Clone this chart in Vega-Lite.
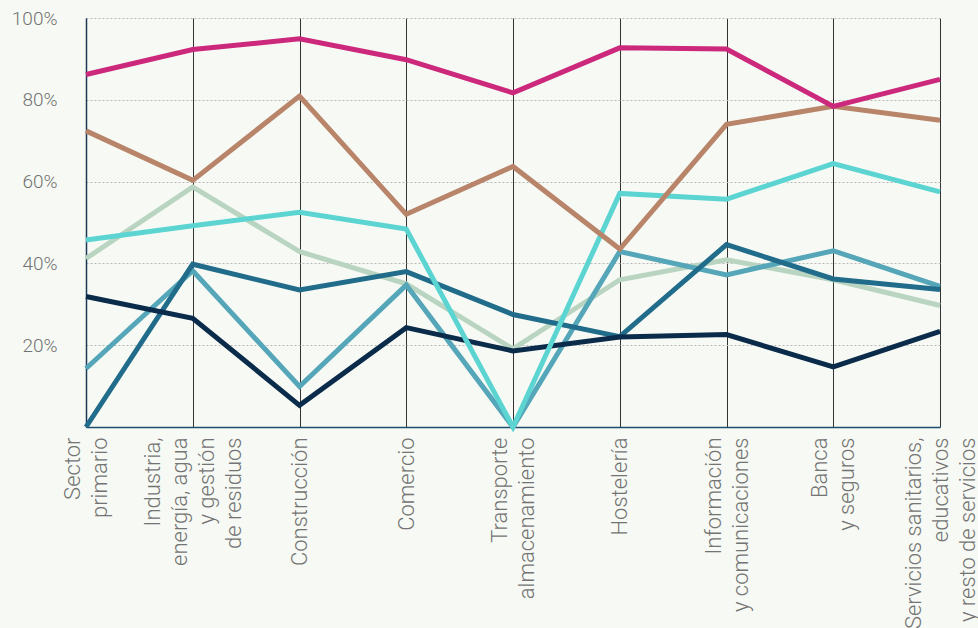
{
  "$schema": "https://vega.github.io/schema/vega-lite/v6.json",
  "autosize": {"type": "none"},
  "width": 854,
  "height": 409,
  "padding": {"left": 86, "top": 18, "right": 38, "bottom": 201},
  "background": "#f7faf4",
  "config": {
    "view": {"stroke": null},
    "font": "Roboto"
  },
  "data": {
    "values": [
      {"serie": "A", "sector": "Sector|primario", "valor": 41.2},
      {"serie": "A", "sector": "Industria,|energía, agua|y gestión|de residuos", "valor": 58.7},
      {"serie": "A", "sector": "Construcción", "valor": 42.9},
      {"serie": "A", "sector": "Comercio", "valor": 35.0},
      {"serie": "A", "sector": "Transporte|almacenamiento", "valor": 19.1},
      {"serie": "A", "sector": "Hostelería", "valor": 36.0},
      {"serie": "A", "sector": "Información|y comunicaciones", "valor": 40.9},
      {"serie": "A", "sector": "Banca|y seguros", "valor": 36.0},
      {"serie": "A", "sector": "Servicios sanitarios,|educativos|y resto de servicios", "valor": 29.7},

      {"serie": "B", "sector": "Sector|primario", "valor": 14.3},
      {"serie": "B", "sector": "Industria,|energía, agua|y gestión|de residuos", "valor": 38.2},
      {"serie": "B", "sector": "Construcción", "valor": 9.9},
      {"serie": "B", "sector": "Comercio", "valor": 34.7},
      {"serie": "B", "sector": "Transporte|almacenamiento", "valor": 0},
      {"serie": "B", "sector": "Hostelería", "valor": 42.9},
      {"serie": "B", "sector": "Información|y comunicaciones", "valor": 37.2},
      {"serie": "B", "sector": "Banca|y seguros", "valor": 43.1},
      {"serie": "B", "sector": "Servicios sanitarios,|educativos|y resto de servicios", "valor": 34.4},

      {"serie": "C", "sector": "Sector|primario", "valor": 0},
      {"serie": "C", "sector": "Industria,|energía, agua|y gestión|de residuos", "valor": 39.8},
      {"serie": "C", "sector": "Construcción", "valor": 33.5},
      {"serie": "C", "sector": "Comercio", "valor": 38.0},
      {"serie": "C", "sector": "Transporte|almacenamiento", "valor": 27.5},
      {"serie": "C", "sector": "Hostelería", "valor": 22.1},
      {"serie": "C", "sector": "Información|y comunicaciones", "valor": 44.6},
      {"serie": "C", "sector": "Banca|y seguros", "valor": 36.2},
      {"serie": "C", "sector": "Servicios sanitarios,|educativos|y resto de servicios", "valor": 33.6},

      {"serie": "D", "sector": "Sector|primario", "valor": 31.9},
      {"serie": "D", "sector": "Industria,|energía, agua|y gestión|de residuos", "valor": 26.6},
      {"serie": "D", "sector": "Construcción", "valor": 5.3},
      {"serie": "D", "sector": "Comercio", "valor": 24.3},
      {"serie": "D", "sector": "Transporte|almacenamiento", "valor": 18.6},
      {"serie": "D", "sector": "Hostelería", "valor": 22.0},
      {"serie": "D", "sector": "Información|y comunicaciones", "valor": 22.6},
      {"serie": "D", "sector": "Banca|y seguros", "valor": 14.7},
      {"serie": "D", "sector": "Servicios sanitarios,|educativos|y resto de servicios", "valor": 23.4},

      {"serie": "E", "sector": "Sector|primario", "valor": 45.7},
      {"serie": "E", "sector": "Industria,|energía, agua|y gestión|de residuos", "valor": 49.2},
      {"serie": "E", "sector": "Construcción", "valor": 52.5},
      {"serie": "E", "sector": "Comercio", "valor": 48.4},
      {"serie": "E", "sector": "Transporte|almacenamiento", "valor": 0},
      {"serie": "E", "sector": "Hostelería", "valor": 57.1},
      {"serie": "E", "sector": "Información|y comunicaciones", "valor": 55.7},
      {"serie": "E", "sector": "Banca|y seguros", "valor": 64.4},
      {"serie": "E", "sector": "Servicios sanitarios,|educativos|y resto de servicios", "valor": 57.5},

      {"serie": "F", "sector": "Sector|primario", "valor": 72.4},
      {"serie": "F", "sector": "Industria,|energía, agua|y gestión|de residuos", "valor": 60.3},
      {"serie": "F", "sector": "Construcción", "valor": 80.9},
      {"serie": "F", "sector": "Comercio", "valor": 52.0},
      {"serie": "F", "sector": "Transporte|almacenamiento", "valor": 63.7},
      {"serie": "F", "sector": "Hostelería", "valor": 43.5},
      {"serie": "F", "sector": "Información|y comunicaciones", "valor": 74.0},
      {"serie": "F", "sector": "Banca|y seguros", "valor": 78.4},
      {"serie": "F", "sector": "Servicios sanitarios,|educativos|y resto de servicios", "valor": 75.0},

      {"serie": "G", "sector": "Sector|primario", "valor": 86.2},
      {"serie": "G", "sector": "Industria,|energía, agua|y gestión|de residuos", "valor": 92.3},
      {"serie": "G", "sector": "Construcción", "valor": 94.9},
      {"serie": "G", "sector": "Comercio", "valor": 89.8},
      {"serie": "G", "sector": "Transporte|almacenamiento", "valor": 81.7},
      {"serie": "G", "sector": "Hostelería", "valor": 92.7},
      {"serie": "G", "sector": "Información|y comunicaciones", "valor": 92.4},
      {"serie": "G", "sector": "Banca|y seguros", "valor": 78.4},
      {"serie": "G", "sector": "Servicios sanitarios,|educativos|y resto de servicios", "valor": 85.0}
    ]
  },
  "mark": {"type": "line", "strokeWidth": 5, "strokeJoin": "miter", "clip": false},
  "encoding": {
    "x": {
      "field": "sector",
      "type": "ordinal",
      "sort": null,
      "scale": {"type": "point", "padding": 0},
      "axis": {
        "title": null,
        "labelAngle": -90,
        "labelAlign": "right",
        "labelBaseline": "middle",
        "labelExpr": "split(datum.label, '|')",
        "labelFont": "Roboto",
        "labelFontWeight": 300,
        "labelFontSize": 22,
        "labelColor": "#737373",
        "labelLineHeight": 27,
        "labelPadding": 10,
        "labelLimit": 400,
        "labelOffset": {
          "condition": [
            {"test": "length(split(datum.value, '|')) == 4", "value": -40.5},
            {"test": "length(split(datum.value, '|')) == 3", "value": -27},
            {"test": "length(split(datum.value, '|')) == 2", "value": -13.5}
          ],
          "value": 0
        },
        "labelOverlap": false,
        "labelBound": false,
        "ticks": false,
        "grid": true,
        "gridColor": "#333333",
        "gridWidth": 1,
        "gridOpacity": 1,
        "domain": true,
        "domainColor": "#1f4d6e",
        "domainWidth": 1.5,
        "zindex": 0
      }
    },
    "y": {
      "field": "valor",
      "type": "quantitative",
      "scale": {"domain": [0, 100], "nice": false},
      "axis": {
        "title": null,
        "values": [20, 40, 60, 80, 100],
        "labelExpr": "datum.value + '%'",
        "labelFont": "Roboto",
        "labelFontWeight": 300,
        "labelFontSize": 19,
        "labelColor": "#737373",
        "labelPadding": 29,
        "ticks": false,
        "grid": true,
        "gridColor": "#b8b8b8",
        "gridDash": [2, 2],
        "gridWidth": 1,
        "domain": true,
        "domainColor": "#1b3a5a",
        "domainWidth": 1.5,
        "zindex": 0
      }
    },
    "color": {
      "field": "serie",
      "type": "nominal",
      "sort": null,
      "legend": null,
      "scale": {
        "domain": ["A", "B", "C", "D", "E", "F", "G"],
        "range": ["#b9d5c1", "#55a6b8", "#216c8b", "#0b2b4b", "#5cd4d2", "#b8846a", "#cc287c"]
      }
    }
  }
}
